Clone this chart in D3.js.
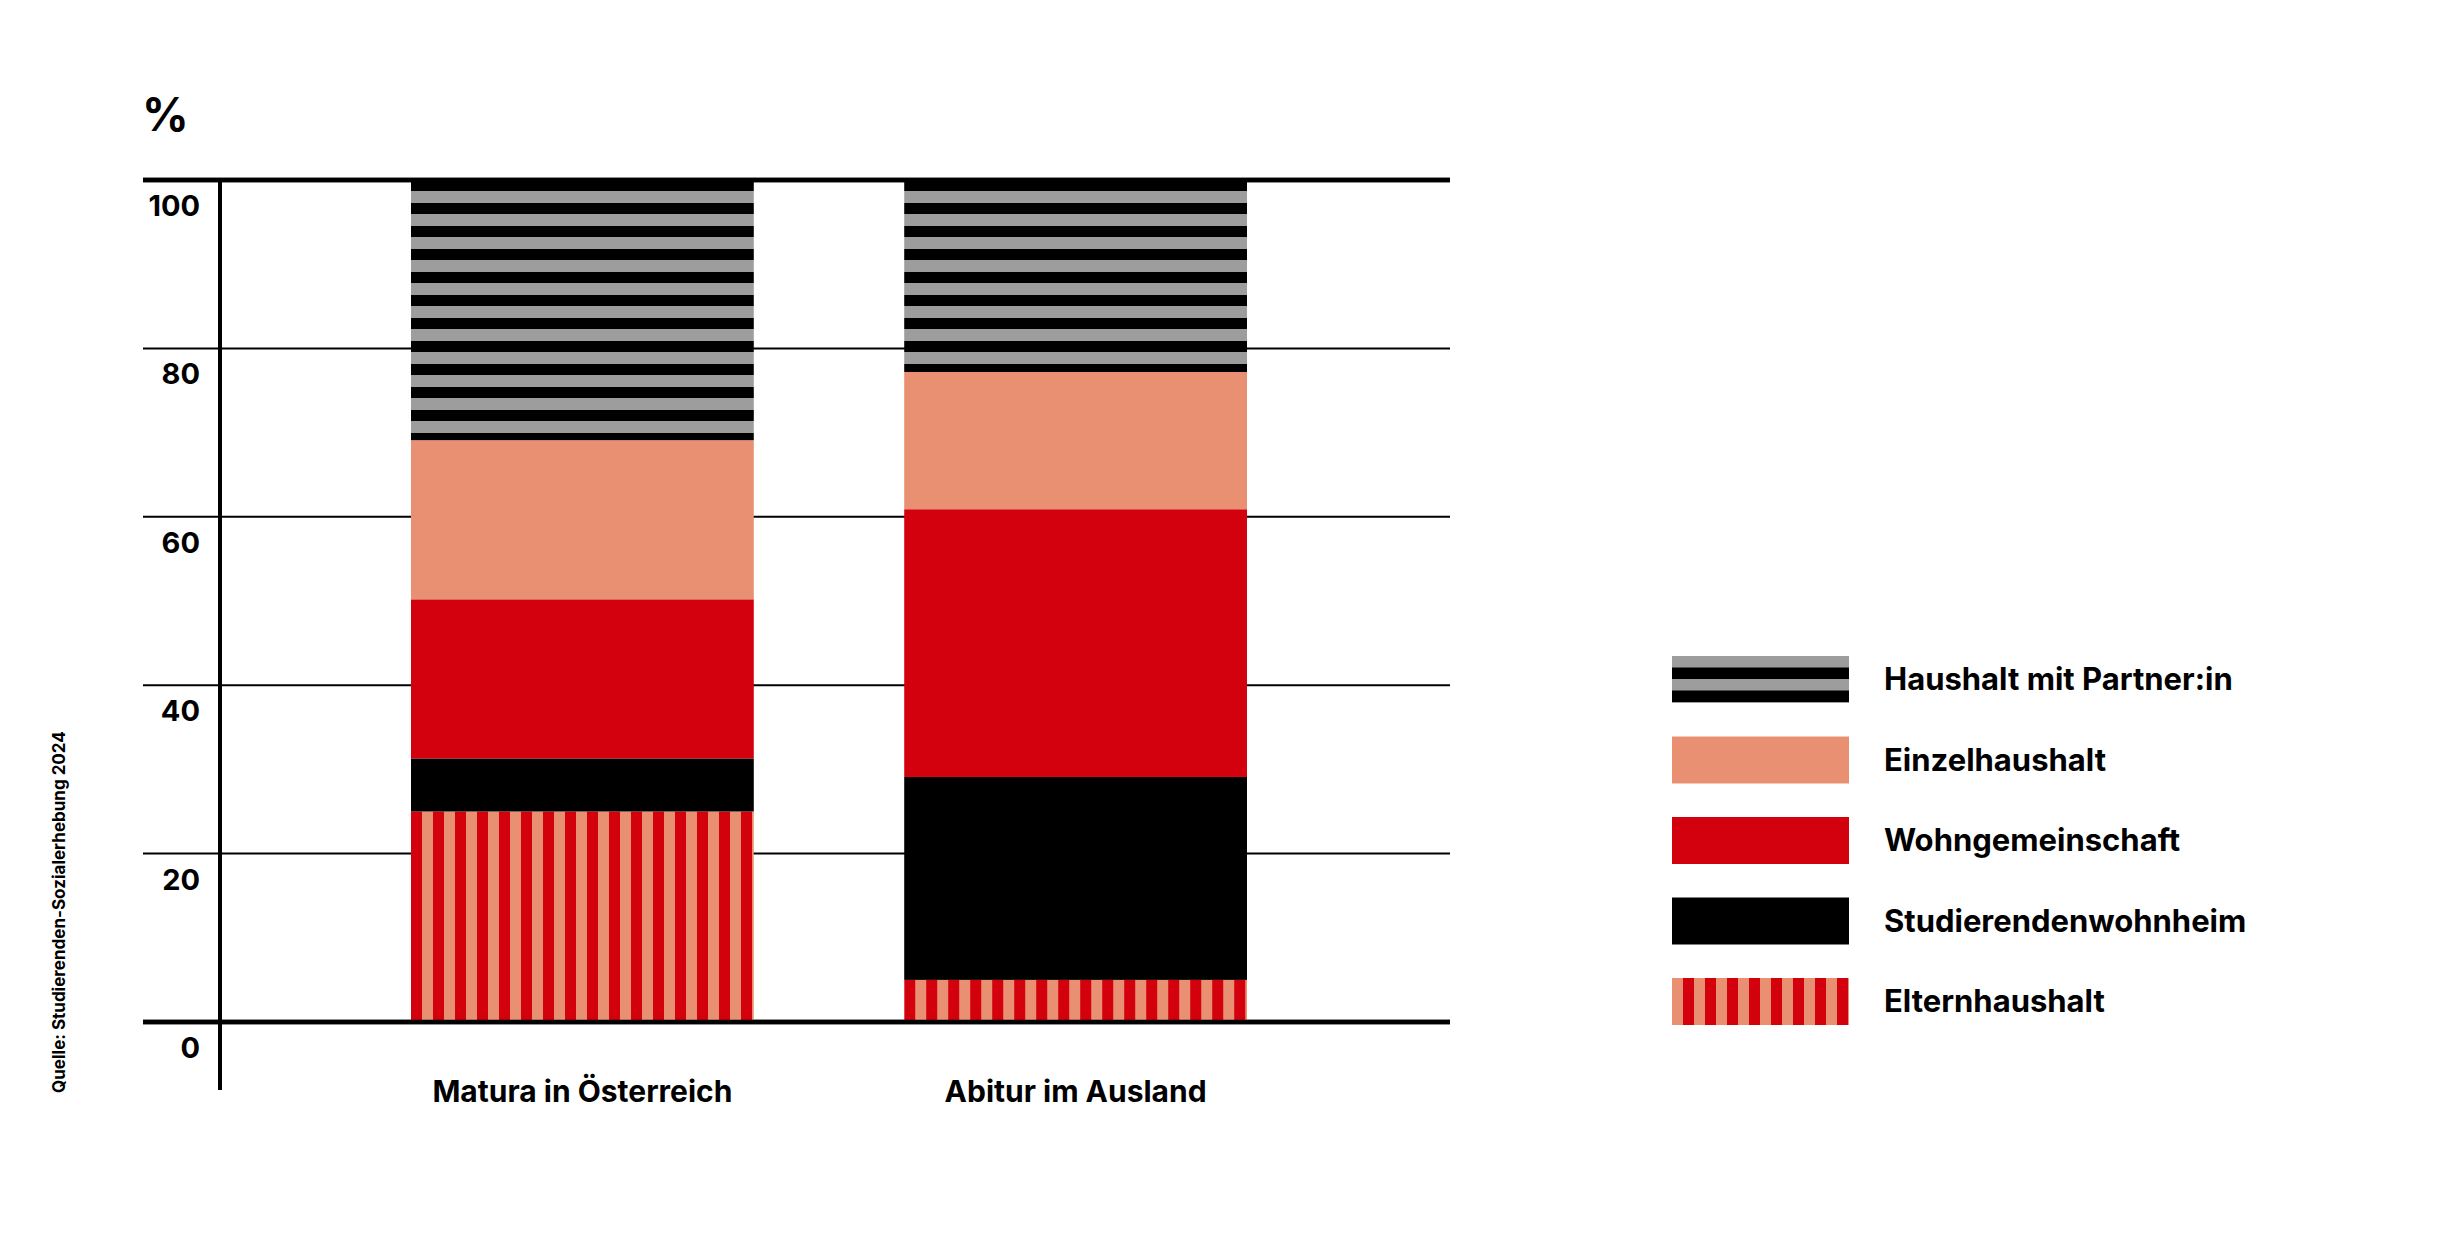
<!DOCTYPE html>
<html>
<head>
<meta charset="utf-8">
<script src="https://cdn.jsdelivr.net/npm/d3@7"></script>
<style>
  body { margin: 0; background: #fff; }
  text { font-family: Inter, "Noto Sans", sans-serif; font-weight: 700; }
</style>
</head>
<body>
<div id="canvas"></div>
<script>
"use strict"

let svgWidth = 2444
let svgHeight = 1236

// Data (percent)
let categories = ["Matura in Österreich", "Abitur im Ausland"]
let seriesNames = ["Elternhaushalt", "Studierendenwohnheim", "Wohngemeinschaft", "Einzelhaushalt", "Haushalt mit Partner:in"]
let elternhaushalt = [25.0, 5.0]
let wohnheim = [6.3, 24.1]
let wohngemeinschaft = [18.9, 31.8]
let einzelhaushalt = [18.9, 16.3]
let partner = [30.9, 22.8]
let yTicks = [0, 20, 40, 60, 80, 100]
let source = "Quelle: Studierenden-Sozialerhebung 2024"

let red = "#d3000d", salmon = "#e98f72", grey = "#9d9d9d"

let svg = d3.select("#canvas").append("svg")
    .attr("width", svgWidth).attr("height", svgHeight)

let x = d3.scaleBand().domain(categories).range([411, 1247]).paddingInner(0.305)
let y = d3.scaleLinear().domain([0, 100]).range([1022, 180])

// Patterns
let defs = svg.append("defs")
let hp = defs.append("pattern").attr("id", "pPartner").attr("patternUnits", "userSpaceOnUse")
    .attr("width", 10).attr("height", 23).attr("y", y(100))
hp.append("rect").attr("width", 10).attr("height", 23).attr("fill", grey)
hp.append("rect").attr("width", 10).attr("height", 11).attr("fill", "#000")

let lp = defs.append("pattern").attr("id", "pPartnerLegend").attr("patternUnits", "userSpaceOnUse")
    .attr("width", 10).attr("height", 23).attr("y", 656)
lp.append("rect").attr("width", 10).attr("height", 23).attr("fill", "#000")
lp.append("rect").attr("width", 10).attr("height", 11.5).attr("fill", grey)

function vStripe(id, x0, firstColor, secondColor) {
    let p = defs.append("pattern").attr("id", id).attr("patternUnits", "userSpaceOnUse")
        .attr("width", 22).attr("height", 10).attr("x", x0)
    p.append("rect").attr("width", 22).attr("height", 10).attr("fill", secondColor)
    p.append("rect").attr("width", 11).attr("height", 10).attr("fill", firstColor)
}

categories.forEach((c, i) => vStripe("pEltern" + i, x(c), red, salmon))
vStripe("pElternLegend", 1672, salmon, red)

let fills = [null, "#000", red, salmon, "url(#pPartner)"]

// Gridlines
svg.append("g").selectAll("line").data(yTicks).join("line")
    .attr("x1", 143).attr("x2", 1450)
    .attr("y1", d => y(d)).attr("y2", d => y(d))
    .attr("stroke", "#000")
    .attr("stroke-width", d => (d == 0 || d == 100) ? 4.5 : 2)

// Bars
let table = categories.map((c, i) => ({
    cat: c,
    [seriesNames[0]]: elternhaushalt[i],
    [seriesNames[1]]: wohnheim[i],
    [seriesNames[2]]: wohngemeinschaft[i],
    [seriesNames[3]]: einzelhaushalt[i],
    [seriesNames[4]]: partner[i]
}))
let stack = d3.stack().keys(seriesNames)(table)

stack.forEach((layer, k) => {
    svg.append("g").selectAll("rect").data(layer).join("rect")
        .attr("x", d => x(d.data.cat))
        .attr("width", x.bandwidth())
        .attr("y", d => y(d[1]))
        .attr("height", d => y(d[0]) - y(d[1]))
        .attr("fill", (d, i) => k == 0 ? "url(#pEltern" + i + ")" : fills[k])
})

// redraw top and zero lines over bars
svg.append("g").selectAll("line").data([0, 100]).join("line")
    .attr("x1", 143).attr("x2", 1450).attr("y1", d => y(d)).attr("y2", d => y(d))
    .attr("stroke", "#000").attr("stroke-width", 4.5)

// Y axis line
svg.append("line").attr("x1", 220).attr("x2", 220).attr("y1", 180).attr("y2", 1090)
    .attr("stroke", "#000").attr("stroke-width", 4)

// Tick labels
svg.append("g").selectAll("text").data(yTicks).join("text")
    .attr("x", 200).attr("y", d => y(d) + 36)
    .attr("text-anchor", "end").attr("font-size", 29)
    .text(d => d)

svg.append("text").attr("x", 142).attr("y", 131).attr("font-size", 46).text("%")

// Category labels
svg.append("g").selectAll("text").data(categories).join("text")
    .attr("x", d => x(d) + x.bandwidth() / 2).attr("y", 1102)
    .attr("text-anchor", "middle").attr("font-size", 30)
    .text(d => d)

// Source
svg.append("text").attr("transform", "translate(65,1093) rotate(-90)")
    .attr("font-size", 17).text(source)

// Legend
let legendOrder = [4, 3, 2, 1, 0]
let legendFills = ["url(#pElternLegend)", "#000", red, salmon, "url(#pPartnerLegend)"]
let ly = d3.scalePoint().domain(legendOrder).range([679, 1001])
let lg = svg.append("g").selectAll("g").data(legendOrder).join("g")
lg.append("rect").attr("x", 1672).attr("width", 177)
    .attr("y", d => ly(d) - 23).attr("height", 47)
    .attr("fill", d => legendFills[d])
lg.append("text").attr("x", 1884).attr("y", d => ly(d) + 11)
    .attr("font-size", 31).text(d => seriesNames[d])
</script>
</body>
</html>
